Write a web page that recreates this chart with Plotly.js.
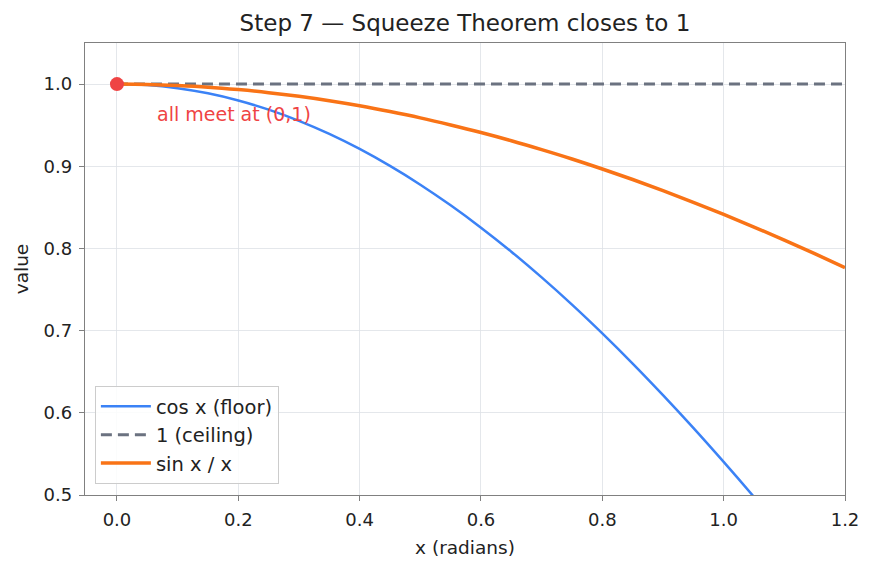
<!DOCTYPE html>
<html><head><meta charset="utf-8">
<script src="https://cdn.plot.ly/plotly-3.0.1.min.js"></script>
<style>html,body{margin:0;padding:0;background:#fff}#chart{width:874px;height:569px}</style>
</head><body><div id="chart"></div>
<script>
const xVals = [0,0.05,0.1,0.15,0.2,0.25,0.3,0.35,0.4,0.45,0.5,0.55,0.6,0.65,0.7,0.75,0.8,0.85,0.9,0.95,1.0,1.05,1.1,1.15,1.2];
const cosVals = [1,0.9988,0.995,0.9888,0.9801,0.9689,0.9553,0.9394,0.9211,0.9004,0.8776,0.8525,0.8253,0.7961,0.7648,0.7317,0.6967,0.66,0.6216,0.5817,0.5403,0.4976,0.4536,0.4085,0.3624];
const ceilVals = [1,1,1,1,1,1,1,1,1,1,1,1,1,1,1,1,1,1,1,1,1,1,1,1,1];
const sincVals = [1,0.9996,0.9983,0.9963,0.9933,0.9896,0.9851,0.9797,0.9736,0.9666,0.9589,0.9503,0.9411,0.9311,0.9203,0.9089,0.8967,0.8839,0.8704,0.8562,0.8415,0.8261,0.8102,0.7937,0.7767];
const meetX = [0];
const meetY = [1];
const xTicks = [0,0.2,0.4,0.6,0.8,1.0,1.2];
const xTickText = ['0.0','0.2','0.4','0.6','0.8','1.0','1.2'];
const yTicks = [0.5,0.6,0.7,0.8,0.9,1.0];
const yTickText = ['0.5','0.6','0.7','0.8','0.9','1.0'];

const font = 'DejaVu Sans, sans-serif';
const traces = [
  {x:xVals,y:cosVals,mode:'lines',name:'cos x (floor)',line:{color:'#3b82f6',width:2.5,shape:'spline'}},
  {x:xVals,y:ceilVals,mode:'lines',name:'1 (ceiling)',line:{color:'#6b7280',width:3,dash:'11px,6px'}},
  {x:xVals,y:sincVals,mode:'lines',name:'sin x / x',line:{color:'#f97316',width:3.5,shape:'spline'}},
  {x:meetX,y:meetY,mode:'markers',showlegend:false,marker:{color:'#ef4444',size:14},cliponaxis:false}
];
const axisCommon = {showline:true,mirror:true,linecolor:'#808080',linewidth:1.2,ticks:'outside',ticklen:5,tickcolor:'#808080',
  gridcolor:'#dde1e6',gridwidth:0.8,zeroline:false,ticklabelstandoff:3,tickfont:{family:font,size:18,color:'#222'}};
const layout = {
  width:874,height:569,paper_bgcolor:'#fff',plot_bgcolor:'#fff',
  margin:{l:85,r:29,t:43,b:74},
  title:{text:'Step 7 — Squeeze Theorem closes to 1',font:{family:font,size:23,color:'#222'},xref:'paper',x:0.5,xanchor:'center',y:0.96,yanchor:'middle'},
  xaxis:Object.assign({},axisCommon,{range:[-0.0527,1.2],tickvals:xTicks,ticktext:xTickText,
    title:{text:'x (radians)',font:{family:font,size:18.5,color:'#222'},standoff:12}}),
  yaxis:Object.assign({},axisCommon,{range:[0.5,1.05],tickvals:yTicks,ticktext:yTickText,
    title:{text:'value',font:{family:font,size:18.5,color:'#222'},standoff:10}}),
  legend:{x:0.013,y:0.024,xanchor:'left',yanchor:'bottom',bgcolor:'rgba(255,255,255,0.85)',bordercolor:'#cccccc',borderwidth:1,
    font:{family:font,size:19.5,color:'#222'},tracegroupgap:0,itemwidth:50},
  annotations:[{x:0.0627,y:0.9635,xref:'x',yref:'y',text:'all meet at (0,1)',showarrow:false,xanchor:'left',yanchor:'middle',
    font:{family:font,size:19,color:'#ef4444'}}],
  showlegend:true
};
Plotly.newPlot('chart',traces,layout,{displayModeBar:false,staticPlot:true});
</script></body></html>
